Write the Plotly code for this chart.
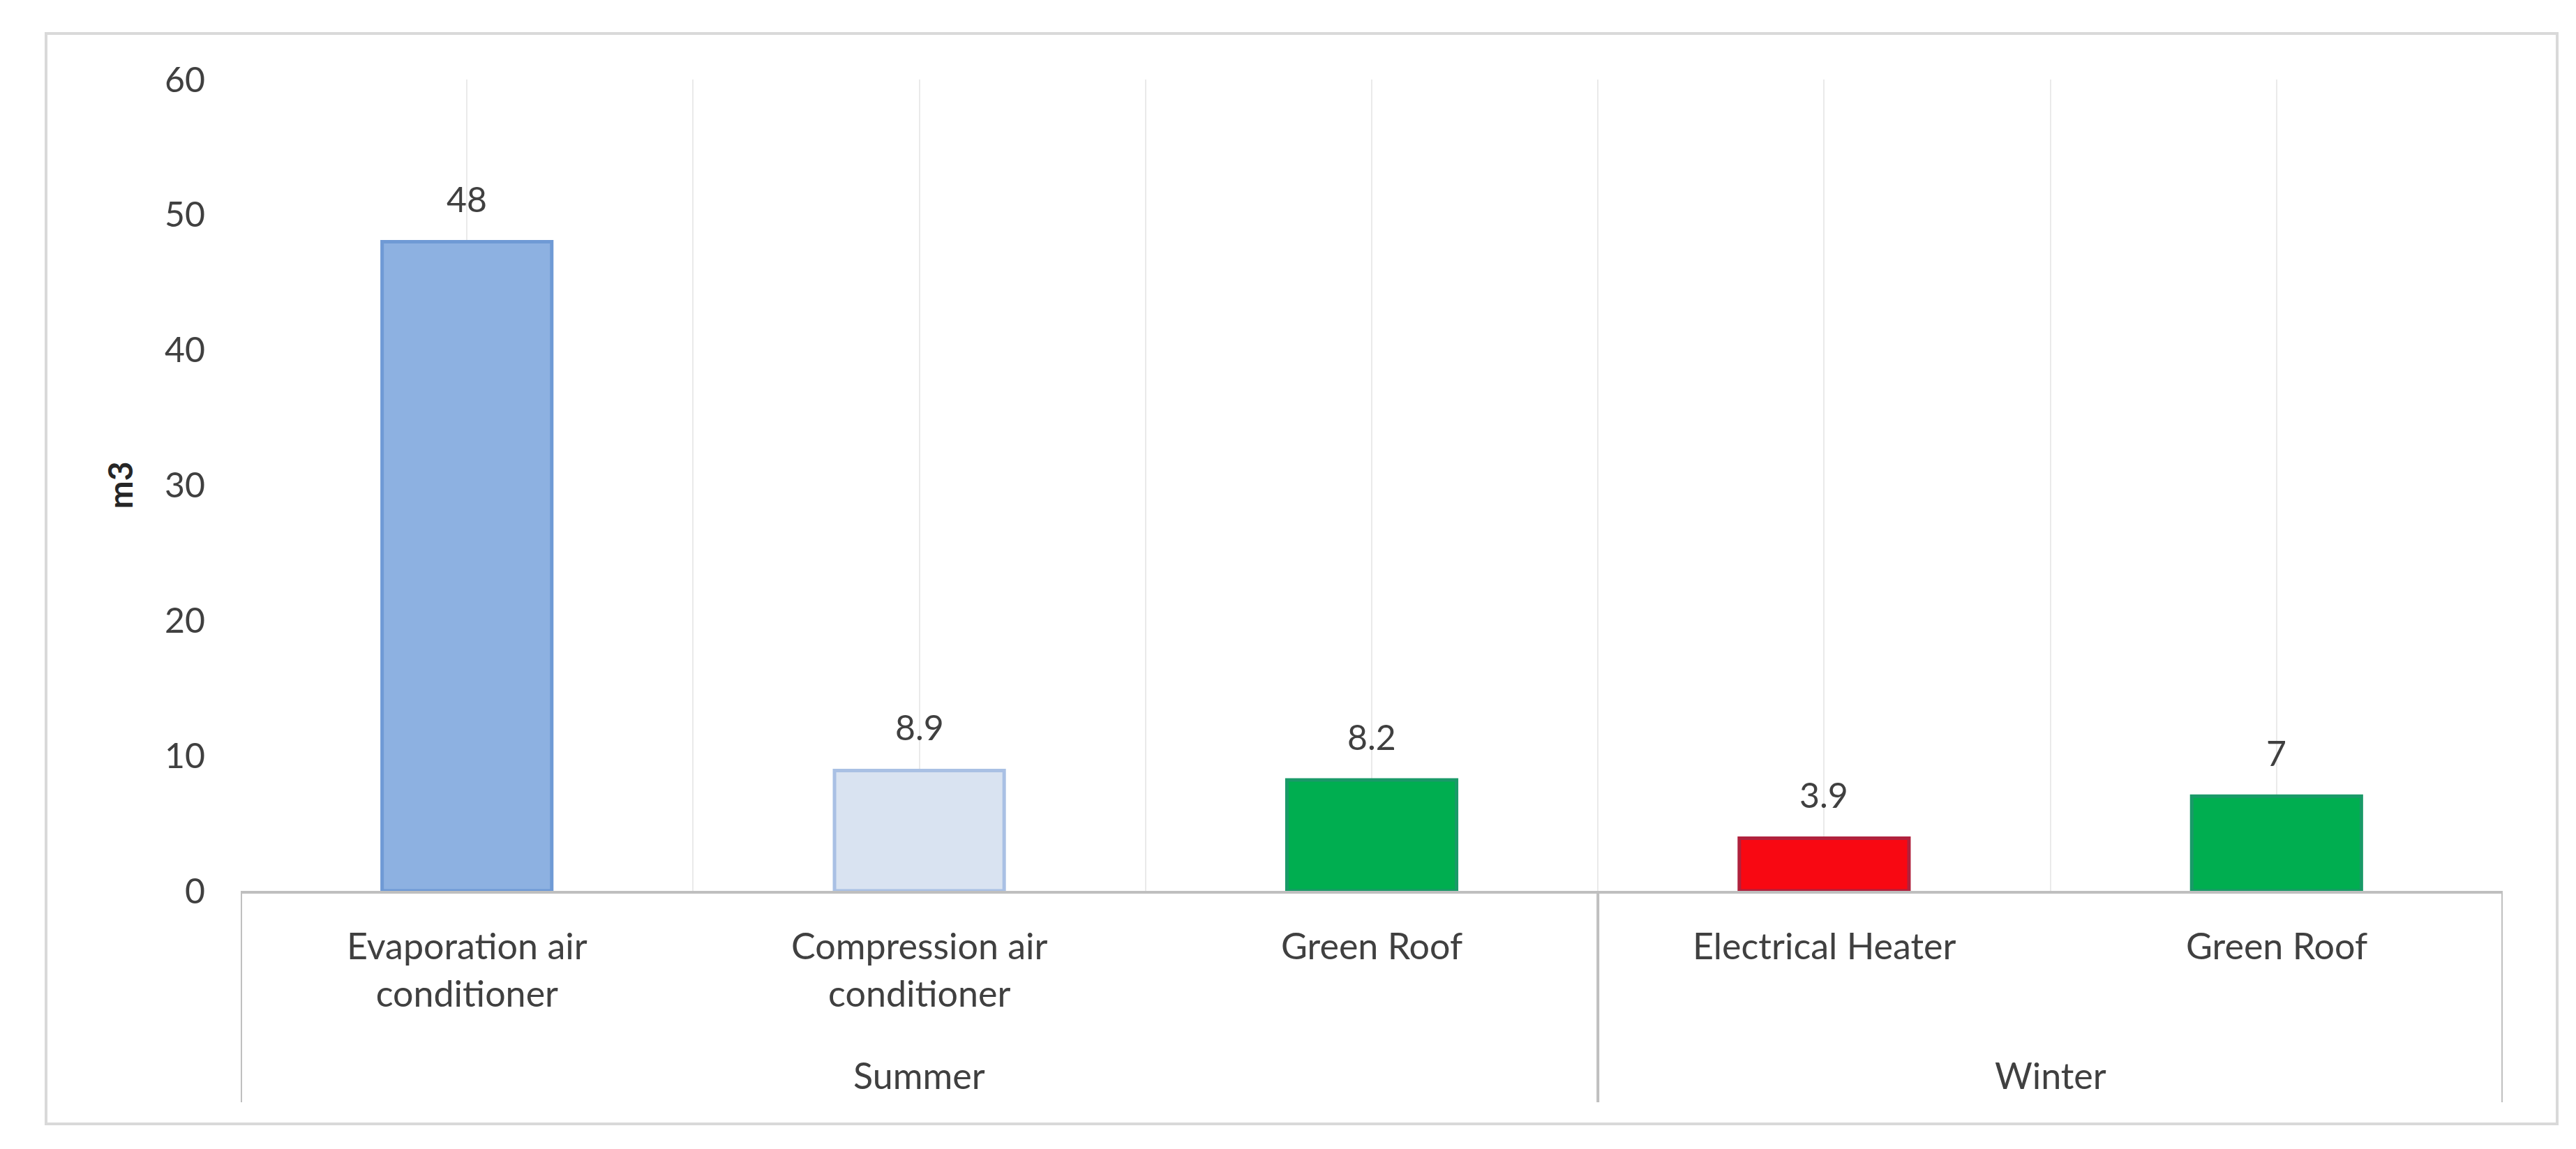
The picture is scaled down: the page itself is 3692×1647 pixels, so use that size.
import textwrap
import plotly.graph_objects as go

# ---- data ----
seasons = ["Summer", "Summer", "Summer", "Winter", "Winter"]
systems = ["Evaporation air conditioner", "Compression air conditioner",
           "Green Roof", "Electrical Heater", "Green Roof"]
values = [48, 8.9, 8.2, 3.9, 7]
y_ticks = [0, 10, 20, 30, 40, 50, 60]
y_title = "m3"

# ---- styles ----
fill_colors = ["#8DB1E1", "#D9E3F1", "#00AE50", "#F80812", "#00AE50"]
line_colors = ["#6F9AD5", "#A9C0E4", "#199A68", "#B0213D", "#199A68"]
FONT = "Lato"
TXT = "#404040"

W, H = 3692, 1647
L, R, T, B = 337, 3579, 106, 1269          # plot area in pixels
def px_x(p):  # pixel -> paper x
    return (p - L) / (R - L)
def px_y(p):  # pixel -> paper y
    return (B - p) / (B - T)

n = len(values)
xs = list(range(n))

fig = go.Figure()
fig.add_trace(go.Bar(
    x=xs, y=values, width=0.375,
    marker=dict(color=fill_colors, line=dict(color=line_colors, width=5)),
    hoverinfo="y", showlegend=False,
))

ann = []
# data labels
for x, v in zip(xs, values):
    ann.append(dict(x=x, y=v, xref="x", yref="y", text=f"{v:g}", showarrow=False,
                    yanchor="bottom", yshift=30,
                    font=dict(family=FONT, size=50, color=TXT)))
# inner category labels
for x, s in zip(xs, systems):
    ann.append(dict(x=x, y=px_y(1314), xref="x", yref="paper",
                    text="<br>".join(textwrap.wrap(s, 17)), showarrow=False,
                    yanchor="top", align="center",
                    font=dict(family=FONT, size=52, color=TXT)))
# outer group labels and dividers
shapes = []
bounds = [-0.5]
groups = []
start = 0
for i in range(1, n + 1):
    if i == n or seasons[i] != seasons[start]:
        groups.append((seasons[start], (start + i - 1) / 2))
        bounds.append(i - 0.5)
        start = i
for name, cx in groups:
    ann.append(dict(x=cx, y=px_y(1533), xref="x", yref="paper", text=name,
                    showarrow=False, yanchor="middle",
                    font=dict(family=FONT, size=52, color=TXT)))
for bx in bounds:
    shapes.append(dict(type="line", xref="x", yref="paper", x0=bx, x1=bx,
                       y0=0, y1=px_y(1572), line=dict(color="#BFBFBF", width=4)))
# outer frame
shapes.append(dict(type="rect", xref="paper", yref="paper",
                   x0=px_x(58), x1=px_x(3657), y0=px_y(1603), y1=px_y(40),
                   line=dict(color="#D9D9D9", width=4), fillcolor="rgba(0,0,0,0)",
                   layer="below"))

fig.update_layout(
    width=W, height=H,
    margin=dict(l=L, r=W - R, t=T, b=H - B, autoexpand=False),
    paper_bgcolor="white", plot_bgcolor="white",
    annotations=ann, shapes=shapes,
    bargap=0.625,
    xaxis=dict(range=[-0.5, n - 0.5], tickmode="array",
               tickvals=[i * 0.5 - 0.5 for i in range(2 * n + 1)],
               showticklabels=False, ticks="",
               showgrid=True, gridcolor="#EAEAEA", gridwidth=2,
               zeroline=False, showline=True, linecolor="#BFBFBF", linewidth=4),
    yaxis=dict(range=[0, 60], tickmode="array", tickvals=y_ticks,
               showgrid=False, zeroline=False, showline=False, ticks="",
               ticklabelstandoff=50,
               tickfont=dict(family=FONT, size=50, color=TXT),
               title=dict(text=f"<b>{y_title}</b>", standoff=30,
                          font=dict(family=FONT, size=48, color="#262626"))),
)

fig.write_html("out.html")
